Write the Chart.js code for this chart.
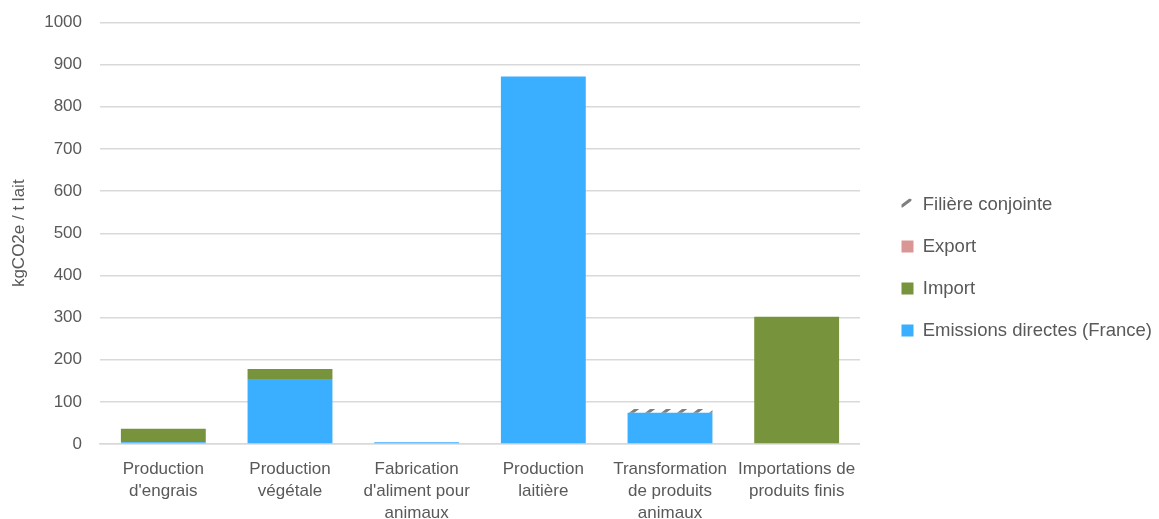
<!DOCTYPE html>
<html>
<head>
<meta charset="utf-8">
<script src="https://cdn.jsdelivr.net/npm/chart.js@4"></script>
<style>
  html, body { margin: 0; padding: 0; background: #fff; }
  #wrap { width: 1159px; height: 519px; }
</style>
</head>
<body>
<div id="wrap"><canvas id="chart"></canvas></div>
<script>
const categories = [
  ['Production', "d'engrais"],
  ['Production', 'végétale'],
  ['Fabrication', "d'aliment pour", 'animaux'],
  ['Production', 'laitière'],
  ['Transformation', 'de produits', 'animaux'],
  ['Importations de', 'produits finis']
];
const emissionsDirectes = [4, 154, 4, 872, 74, 0];
const importVals = [32, 24, 0, 0, 0, 302];
const exportVals = [0, 0, 0, 0, 0, 0];
const filiereConjointe = [0, 0, 0, 0, 9, 0];
const yTicks = [0, 100, 200, 300, 400, 500, 600, 700, 800, 900, 1000];

// hatch used for the "Filière conjointe" segment
function makeHatch() {
  const c = document.createElement('canvas');
  c.width = 16; c.height = 16;
  const g = c.getContext('2d');
  g.strokeStyle = '#7f7f7f';
  g.lineWidth = 3;
  g.lineCap = 'round';
  g.beginPath();
  g.moveTo(6, 14);
  g.lineTo(14, 8);
  g.stroke();
  return g.createPattern(c, 'repeat');
}

// widen the legend box and push its items right / down a little
const legendShift = {
  id: 'legendShift',
  afterInit(chart) {
    const legend = chart.legend;
    const fit = legend.fit.bind(legend);
    legend.fit = function () { fit(); this.width += 15; };
  },
  afterLayout(chart) {
    chart.legend.left += 18;
    chart.legend.top += 16;
  }
};

const font = "'Liberation Sans', Arial, sans-serif";
const textColor = '#595959';

new Chart(document.getElementById('chart'), {
  type: 'bar',
  data: {
    labels: categories,
    datasets: [
      { label: 'Emissions directes (France)', data: emissionsDirectes, backgroundColor: '#3aaeff' },
      { label: 'Import', data: importVals, backgroundColor: '#77933c' },
      { label: 'Export', data: exportVals, backgroundColor: '#d99694' },
      { label: 'Filière conjointe', data: filiereConjointe, backgroundColor: makeHatch() }
    ]
  },
  plugins: [legendShift],
  options: {
    responsive: true,
    maintainAspectRatio: false,
    animation: false,
    layout: { padding: 0 },
    datasets: { bar: { categoryPercentage: 0.67, barPercentage: 1 } },
    plugins: {
      tooltip: { enabled: false },
      legend: {
        position: 'right',
        reverse: true,
        labels: {
          boxWidth: 12,
          boxHeight: 12,
          padding: 23.5,
          color: textColor,
          font: { family: font, size: 18.5 }
        }
      }
    },
    scales: {
      x: {
        stacked: true,
        grid: { display: false, drawTicks: false },
        border: { color: '#d9d9d9', width: 1.5 },
        ticks: {
          color: textColor,
          maxRotation: 0,
          autoSkip: false,
          padding: 14,
          font: { family: font, size: 17, lineHeight: 1.3 }
        },
        afterFit: s => { s.height = 75; }
      },
      y: {
        stacked: true,
        min: 0,
        max: 1000,
        afterBuildTicks: s => { s.ticks = yTicks.map(v => ({ value: v })); },
        grid: { color: '#d9d9d9', lineWidth: 1.5, drawTicks: false },
        border: { display: false },
        ticks: {
          color: textColor,
          padding: 18,
          font: { family: font, size: 17 },
          callback: v => String(v)
        },
        title: {
          display: true,
          text: 'kgCO2e / t lait',
          color: textColor,
          padding: { top: 9, bottom: 0 },
          font: { family: font, size: 17 }
        },
        afterFit: s => { s.width = 100; s.paddingTop = 22.5; }
      }
    }
  }
});
</script>
</body>
</html>
